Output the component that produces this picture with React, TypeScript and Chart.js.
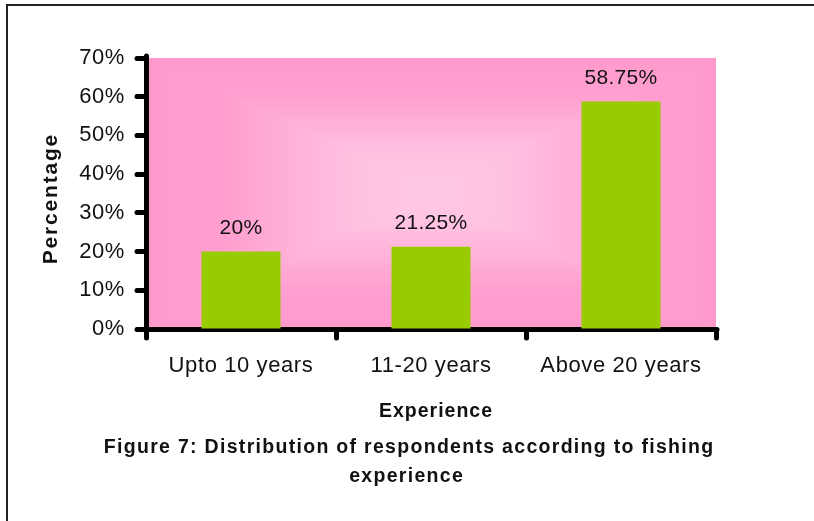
import React, { useEffect, useRef } from 'react';
import { Chart, registerables } from 'chart.js';

Chart.register(...registerables);

// ---- data ----
const categories = ['Upto 10 years', '11-20 years', 'Above 20 years'];
const percentages = [20, 21.25, 58.75];
const yMin = 0;
const yMax = 70;
const yStep = 10;
const yTitle = 'Percentage';
const xTitle = 'Experience';
const captionLines = [
  'Figure 7: Distribution of respondents according to fishing',
  'experience',
];

// ---- look ----
const FONT = '"Liberation Sans", Arial, Helvetica, sans-serif';
const BAR_COLOR = '#99CC00';
const TEXT_COLOR = '#111';
const W = 814;
const H = 521;
const AREA = { left: 146, top: 58, right: 716, bottom: 329 };

// pink ramp, from the centre of the plot (0) to its edges (1)
const rampStops: [number, string][] = [
  [0, '#FFCAE6'],
  [0.25, '#FFC2E1'],
  [0.5, '#FFB0D8'],
  [0.72, '#FF9FCF'],
  [1, '#FF99CC'],
];

// rectangular "from centre" fill of the plot area
const plotBackground = {
  id: 'plotBackground',
  beforeDraw(chart: any) {
    const { ctx, chartArea: a } = chart;
    const cx = (a.left + a.right) / 2;
    const cy = (a.top + a.bottom) / 2 - 4;
    ctx.save();
    // top / bottom halves
    const v = ctx.createLinearGradient(0, a.top, 0, a.bottom);
    const hTop = cy - a.top;
    const hBot = a.bottom - cy;
    const h = a.bottom - a.top;
    for (const [t, c] of rampStops) {
      v.addColorStop((hTop - t * hTop) / h, c);
      v.addColorStop((hTop + t * hBot) / h, c);
    }
    ctx.fillStyle = v;
    ctx.fillRect(a.left, a.top, a.right - a.left, h);
    // left / right triangles
    const hw = cx - a.left;
    const g = ctx.createLinearGradient(a.left, 0, a.right, 0);
    const w = a.right - a.left;
    for (const [t, c] of rampStops) {
      g.addColorStop((hw - t * hw) / w, c);
      g.addColorStop((hw + t * (a.right - cx)) / w, c);
    }
    ctx.fillStyle = g;
    ctx.beginPath();
    ctx.moveTo(a.left, a.top);
    ctx.lineTo(cx, cy);
    ctx.lineTo(a.left, a.bottom);
    ctx.closePath();
    ctx.fill();
    ctx.beginPath();
    ctx.moveTo(a.right, a.top);
    ctx.lineTo(cx, cy);
    ctx.lineTo(a.right, a.bottom);
    ctx.closePath();
    ctx.fill();
    ctx.restore();
    // rounded ends for axis lines and tick marks, slightly open tick text
    ctx.lineCap = 'round';
    ctx.letterSpacing = '0.6px';
  },
};

// value labels above the bars
const valueLabels = {
  id: 'valueLabels',
  afterDatasetsDraw(chart: any) {
    const { ctx } = chart;
    const meta = chart.getDatasetMeta(0);
    ctx.save();
    ctx.font = `21px ${FONT}`;
    ctx.fillStyle = TEXT_COLOR;
    ctx.textAlign = 'center';
    ctx.textBaseline = 'alphabetic';
    ctx.letterSpacing = '0.3px';
    meta.data.forEach((bar: any, i: number) => {
      ctx.fillText(`${percentages[i]}%`, bar.x, bar.y - 18);
    });
    ctx.restore();
  },
};

function spacedText(ctx: any, text: string, x: number, y: number, spacing: number) {
  ctx.letterSpacing = `${spacing}px`;
  ctx.fillText(text, x + spacing / 2, y);
  ctx.letterSpacing = '0px';
}

// axis titles and the figure caption
const titles = {
  id: 'titles',
  afterDraw(chart: any) {
    const { ctx } = chart;
    ctx.save();
    ctx.fillStyle = TEXT_COLOR;
    ctx.textAlign = 'center';
    ctx.textBaseline = 'alphabetic';

    ctx.save();
    ctx.font = `bold 21px ${FONT}`;
    ctx.translate(57, 199.5);
    ctx.rotate(-Math.PI / 2);
    spacedText(ctx, yTitle, 0, 0, 1.8);
    ctx.restore();

    ctx.font = `bold 19.5px ${FONT}`;
    spacedText(ctx, xTitle, 435.5, 417, 1);

    ctx.font = `bold 19.5px ${FONT}`;
    spacedText(ctx, captionLines[0], 408.5, 453, 1.3);
    spacedText(ctx, captionLines[1], 406, 482, 1.3);
    ctx.restore();
  },
};

export default function App() {
  const canvasRef = useRef<HTMLCanvasElement | null>(null);

  useEffect(() => {
    const canvas = canvasRef.current;
    if (!canvas) return;
    const chart = new Chart(canvas, {
      type: 'bar',
      data: {
        labels: categories,
        datasets: [
          {
            data: percentages,
            backgroundColor: BAR_COLOR,
            borderWidth: 0,
            barPercentage: 1,
            categoryPercentage: 0.416,
          },
        ],
      },
      options: {
        animation: false,
        responsive: false,
        devicePixelRatio: 1,
        layout: {
          padding: { left: 0, top: AREA.top, right: W - AREA.right, bottom: 0 },
        },
        plugins: {
          legend: { display: false },
          title: { display: false },
          tooltip: { enabled: false },
        },
        scales: {
          x: {
            type: 'category',
            offset: true,
            afterFit(scale: any) {
              scale.height = H - AREA.bottom;
            },
            grid: {
              offset: true,
              drawOnChartArea: false,
              drawTicks: true,
              tickLength: 9,
              tickWidth: 5,
              tickColor: '#000',
              color: '#000',
            },
            border: { display: true, color: '#000', width: 5 },
            ticks: {
              color: TEXT_COLOR,
              font: { family: FONT, size: 22 },
              padding: 15,
              maxRotation: 0,
            },
          },
          y: {
            min: yMin,
            max: yMax,
            afterFit(scale: any) {
              scale.width = AREA.left;
            },
            grid: {
              drawOnChartArea: false,
              drawTicks: true,
              tickLength: 9,
              tickWidth: 5,
              tickColor: '#000',
              color: '#000',
            },
            border: { display: true, color: '#000', width: 5 },
            ticks: {
              stepSize: yStep,
              color: TEXT_COLOR,
              font: { family: FONT, size: 22 },
              padding: 12,
              callback: (v: any) => `${v}%`,
            },
          },
        },
      },
      plugins: [plotBackground, valueLabels, titles],
    });
    return () => chart.destroy();
  }, []);

  return (
    <div style={{ position: 'absolute', left: 0, top: 0, width: W, height: H, background: '#fff' }}>
      <div
        style={{
          position: 'absolute',
          left: 6,
          top: 4,
          width: W - 6,
          height: H - 4,
          borderTop: '2px solid #222',
          borderLeft: '2px solid #222',
          boxSizing: 'border-box',
        }}
      />
      <canvas
        ref={canvasRef}
        width={W}
        height={H}
        style={{ position: 'absolute', left: 0, top: 0, width: W, height: H }}
      />
    </div>
  );
}
